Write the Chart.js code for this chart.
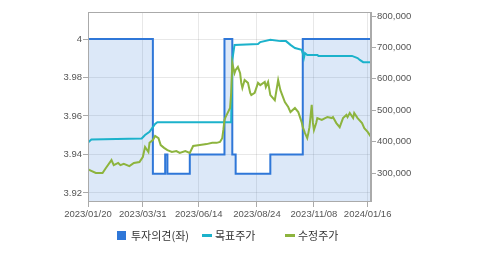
<!DOCTYPE html>
<html>
<head>
<meta charset="utf-8">
<script src="https://cdn.jsdelivr.net/npm/chart.js@4.4.1/dist/chart.umd.min.js"></script>
<style>
body { margin: 0; background: #fff; }
#wrap { position: relative; width: 479px; height: 255px; }
#legend { position: absolute; left: 0; top: 227px; width: 479px; height: 16px; font-family: "Noto Sans CJK KR", sans-serif; font-size: 11px; color: #333; }
#legend span { position: absolute; line-height: 16px; white-space: nowrap; }
#legend .box { top: 4px; width: 9px; height: 9px; background: #2f77d8; }
#legend .dash { top: 7px; width: 10px; height: 3px; }
</style>
</head>
<body>
<div id="wrap">
	<canvas id="chart" width="479" height="255"></canvas>
	<div id="legend">
		<span class="box" style="left:117px"></span><span style="left:131px">투자의견(좌)</span>
		<span class="dash" style="left:202px;background:#1cb2cb"></span><span style="left:215px">목표주가</span>
		<span class="dash" style="left:285px;background:#8db43e"></span><span style="left:298px">수정주가</span>
	</div>
</div>
<script>
// x = trading day index (2023/01/20 = 0)
var tickIdx    = [0, 49, 99, 151, 202, 250];
var tickLabels = ['2023/01/20', '2023/03/31', '2023/06/14', '2023/08/24', '2023/11/08', '2024/01/16'];

// 투자의견 (left axis), step changes
var opinionIdx = [0, 58, 69, 71, 91, 122, 129, 132, 163, 192, 253];
var opinionVal = [4, 3.93, 3.94, 3.93, 3.94, 4, 3.94, 3.93, 3.94, 4, 4];

// 목표주가 (right axis)
var targetIdx = [0, 3, 48, 51, 55, 58, 60, 62, 128, 129, 131, 152, 154, 163, 172, 177, 181, 185, 191, 192, 193, 194, 196, 205, 206, 236, 241, 243, 246, 253];
var targetVal = [397000, 407000, 410000, 421000, 431000, 446000, 456000, 462000, 462000, 660000, 708000, 711000, 717000, 724000, 720000, 720000, 708000, 698000, 692000, 682000, 666000, 682000, 676000, 676000, 673000, 673000, 666000, 660000, 653000, 653000];

// 수정주가 (right axis)
var priceIdx = [0, 1, 7, 13, 16, 21, 23, 27, 29, 32, 37, 41, 46, 49, 51, 54, 55, 58, 60, 63,
	65, 68, 71, 75, 79, 82, 87, 91, 94, 100, 106, 111, 115, 118, 120, 121, 122, 123, 127, 128,
	129, 131, 132, 134, 136, 137, 138, 140, 143, 145, 146, 149, 152, 154, 158, 159, 161, 163, 167, 170,
	172, 176, 179, 181, 185, 188, 191, 192, 194, 196, 197, 198, 200, 201, 202, 204, 205, 209, 212, 214,
	218, 219, 222, 225, 228, 231, 232, 234, 237, 238, 241, 245, 247, 250, 253];
var priceVal = [312000, 310000, 300000, 300000, 316000, 341000, 325000, 332000, 325000, 329000, 322000, 332000, 335000, 351000, 383000, 367000, 396000, 405000, 418000, 411000,
	389000, 380000, 373000, 367000, 370000, 364000, 370000, 364000, 386000, 389000, 392000, 396000, 396000, 399000, 411000, 437000, 469000, 478000, 507000, 555000,
	650000, 618000, 628000, 638000, 618000, 587000, 571000, 596000, 587000, 555000, 548000, 555000, 587000, 580000, 590000, 574000, 590000, 548000, 532000, 596000,
	564000, 526000, 510000, 494000, 507000, 494000, 462000, 446000, 427000, 411000, 427000, 446000, 517000, 462000, 437000, 459000, 475000, 469000, 475000, 478000,
	475000, 478000, 459000, 446000, 475000, 485000, 478000, 491000, 475000, 491000, 475000, 459000, 443000, 431000, 415000];

var leftTicks  = [3.92, 3.94, 3.96, 3.98, 4];
var rightTicks = [300000, 400000, 500000, 600000, 700000, 800000];

function pts(xs, ys) {
	return xs.map(function (x, i) { return { x: x, y: ys[i] }; });
}

var tickFont = { family: 'Liberation Sans', size: 9.5 };

var frame = {
	id: 'frame',
	afterDraw: function (chart) {
		var a = chart.chartArea, ctx = chart.ctx;
		ctx.save();
		ctx.strokeStyle = '#aaaaaa';
		ctx.lineWidth = 1;
		ctx.strokeRect(a.left + 0.5, a.top + 0.5, a.right - a.left - 1, a.bottom - a.top);
		ctx.restore();
	}
};

new Chart(document.getElementById('chart'), {
	type: 'line',
	data: {
		datasets: [{
			label: '투자의견(좌)',
			data: pts(opinionIdx, opinionVal),
			yAxisID: 'y',
			stepped: true,
			borderColor: '#2f77d8',
			borderWidth: 2,
			backgroundColor: 'rgba(49,118,214,0.17)',
			fill: 'start',
			pointRadius: 0,
			order: 3
		}, {
			label: '목표주가',
			data: pts(targetIdx, targetVal),
			yAxisID: 'y2',
			borderColor: '#1cb2cb',
			borderWidth: 2,
			pointRadius: 0,
			fill: false,
			order: 2
		}, {
			label: '수정주가',
			data: pts(priceIdx, priceVal),
			yAxisID: 'y2',
			borderColor: '#8db43e',
			borderWidth: 2,
			pointRadius: 0,
			fill: false,
			order: 1
		}]
	},
	options: {
		responsive: false,
		animation: false,
		layout: { padding: { top: 12, left: 0, right: 0, bottom: 0 } },
		plugins: { legend: { display: false }, tooltip: { enabled: false } },
		scales: {
			x: {
				type: 'linear',
				min: 0,
				max: 253,
				afterBuildTicks: function (s) { s.ticks = tickIdx.map(function (v) { return { value: v }; }); },
				afterFit: function (s) { s.height = 54; },
				ticks: {
					autoSkip: false,
					maxRotation: 0,
					padding: 2,
					color: '#555',
					font: tickFont,
					callback: function (v, i) { return tickLabels[i]; }
				},
				grid: { color: 'rgba(0,0,0,0.09)', tickColor: '#aaa', tickLength: 6 },
				border: { color: '#aaa' }
			},
			y: {
				position: 'left',
				min: 3.91584,
				max: 4.01403,
				afterBuildTicks: function (s) { s.ticks = leftTicks.map(function (v) { return { value: v }; }); },
				afterFit: function (s) { s.width = 88; },
				ticks: {
					padding: 1,
					color: '#555',
					font: tickFont,
					callback: function (v) { return String(+v.toFixed(2)); }
				},
				grid: { color: 'rgba(0,0,0,0.09)', tickColor: '#aaa', tickLength: 5 },
				border: { color: '#aaa' }
			},
			y2: {
				position: 'right',
				min: 210828,
				max: 812739,
				afterBuildTicks: function (s) { s.ticks = rightTicks.map(function (v) { return { value: v }; }); },
				afterFit: function (s) { s.width = 108; },
				ticks: {
					padding: 1,
					color: '#555',
					font: tickFont,
					callback: function (v) { return v.toLocaleString('en-US'); }
				},
				grid: { drawOnChartArea: false, tickColor: '#aaa', tickLength: 5 },
				border: { color: '#aaa' }
			}
		}
	},
	plugins: [frame]
});
</script>
</body>
</html>
